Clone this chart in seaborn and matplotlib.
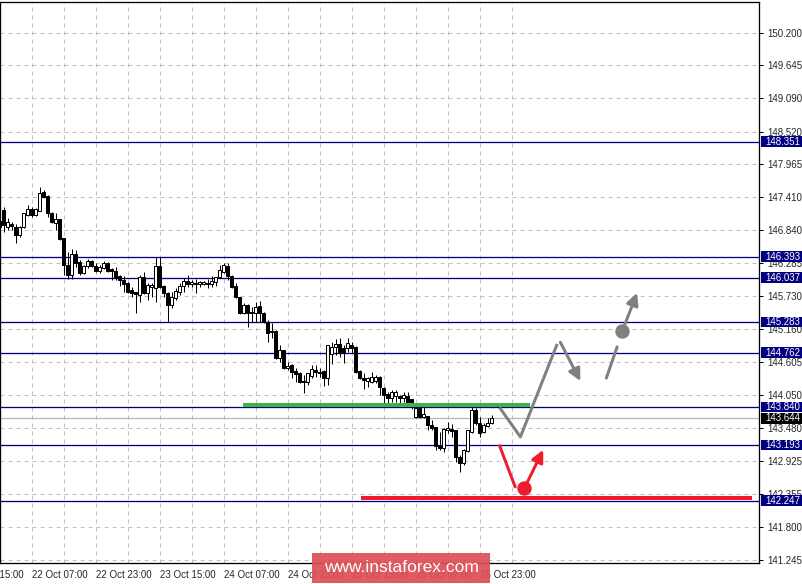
import numpy as np
import pandas as pd
import matplotlib
matplotlib.use("Agg")
import matplotlib.pyplot as plt
import matplotlib.transforms as mtransforms
from matplotlib.patches import Rectangle
import seaborn as sns

# H1 candles (first one is cut by the left edge)
opens = [147.00, 147.19, 146.90, 146.95, 146.90, 146.76, 146.90, 147.10, 147.20, 147.10,
         147.17, 147.49, 147.43, 147.14, 146.97, 147.04, 146.71, 146.25, 146.08, 146.44,
         146.30, 146.12, 146.24, 146.32, 146.24, 146.15, 146.20, 146.29, 146.19, 146.15,
         146.07, 146.00, 145.95, 145.83, 145.79, 145.74, 146.05, 145.78, 145.88, 145.86,
         146.24, 145.90, 145.78, 145.57, 145.69, 145.79, 145.90, 145.98, 145.93, 145.95,
         145.93, 145.93, 145.95, 145.93, 145.96, 146.05, 146.13, 146.24, 146.07, 145.90,
         145.71, 145.44, 145.57, 145.46, 145.44, 145.56, 145.44, 145.28, 145.13, 145.13,
         144.67, 144.81, 144.50, 144.55, 144.45, 144.42, 144.28, 144.26, 144.37, 144.47,
         144.43, 144.45, 144.33, 144.74, 144.86, 144.91, 144.84, 144.84, 144.89, 144.86,
         144.45, 144.33, 144.28, 144.26, 144.28, 144.35, 144.16, 144.06, 143.99, 144.03,
         144.03, 143.99, 144.03, 143.97, 143.67, 143.82, 143.67, 143.69, 143.53, 143.50,
         143.18, 143.14, 143.45, 143.47, 143.45, 142.99, 142.89, 143.09, 143.41, 143.79,
         143.57, 143.41, 143.52, 143.57]
highs = [147.03, 147.24, 147.05, 146.98, 146.95, 146.92, 147.14, 147.27, 147.24, 147.22,
         147.58, 147.53, 147.44, 147.15, 147.14, 147.04, 146.71, 146.47, 146.53, 146.51,
         146.34, 146.25, 146.36, 146.34, 146.29, 146.25, 146.32, 146.30, 146.20, 146.22,
         146.08, 146.07, 145.96, 145.88, 145.79, 146.08, 146.13, 145.95, 145.95, 146.39,
         146.39, 145.91, 145.79, 145.79, 145.86, 145.95, 146.03, 146.08, 146.00, 146.02,
         145.98, 145.98, 146.02, 146.07, 146.05, 146.25, 146.29, 146.29, 146.08, 145.95,
         145.71, 145.61, 145.59, 145.54, 145.62, 145.64, 145.46, 145.32, 145.27, 145.15,
         144.89, 144.81, 144.60, 144.57, 144.50, 144.44, 144.38, 144.42, 144.55, 144.55,
         144.50, 144.47, 144.89, 144.94, 144.99, 145.01, 144.89, 145.01, 144.94, 144.88,
         144.47, 144.42, 144.35, 144.43, 144.38, 144.37, 144.18, 144.09, 144.13, 144.13,
         144.04, 144.09, 144.09, 143.97, 143.87, 143.89, 143.84, 143.69, 143.62, 143.50,
         143.42, 143.48, 143.58, 143.55, 143.45, 143.02, 143.13, 143.45, 143.84, 143.82,
         143.67, 143.57, 143.65, 143.70]
lows = [146.85, 146.81, 146.85, 146.85, 146.63, 146.73, 146.88, 147.09, 147.07, 147.09,
        147.17, 147.39, 147.07, 146.97, 146.85, 146.68, 146.08, 146.02, 146.02, 146.22,
        146.08, 146.10, 146.20, 146.22, 146.13, 146.12, 146.19, 146.13, 146.00, 146.00,
        145.90, 145.79, 145.78, 145.71, 145.44, 145.62, 145.76, 145.66, 145.71, 145.62,
        145.86, 145.71, 145.28, 145.52, 145.66, 145.74, 145.79, 145.88, 145.88, 145.78,
        145.88, 145.91, 145.86, 145.88, 145.90, 146.03, 146.12, 146.00, 145.86, 145.69,
        145.42, 145.42, 145.20, 145.28, 145.28, 145.28, 145.27, 144.94, 145.01, 144.66,
        144.60, 144.49, 144.47, 144.33, 144.26, 144.25, 144.08, 144.21, 144.33, 144.35,
        144.35, 144.20, 144.21, 144.57, 144.72, 144.69, 144.59, 144.77, 144.76, 144.42,
        144.32, 144.15, 144.18, 144.25, 144.25, 144.04, 143.91, 143.91, 143.92, 143.92,
        143.91, 143.92, 143.91, 143.81, 143.65, 143.65, 143.65, 143.45, 143.45, 143.11,
        143.11, 143.07, 143.40, 143.33, 142.90, 142.73, 142.85, 143.07, 143.40, 143.53,
        143.33, 143.40, 143.50, 143.55]
closes = [146.90, 146.93, 146.98, 146.92, 146.76, 146.90, 147.14, 147.20, 147.10, 147.20,
          147.48, 147.41, 147.14, 146.98, 147.04, 146.70, 146.25, 146.08, 146.44, 146.29,
          146.12, 146.24, 146.32, 146.24, 146.15, 146.22, 146.29, 146.15, 146.15, 146.05,
          146.00, 145.93, 145.79, 145.78, 145.76, 146.05, 145.78, 145.91, 145.91, 146.24,
          145.88, 145.78, 145.57, 145.71, 145.81, 145.90, 145.98, 145.93, 145.96, 145.93,
          145.96, 145.96, 145.93, 145.98, 146.05, 146.17, 146.25, 146.07, 145.88, 145.71,
          145.44, 145.57, 145.44, 145.44, 145.54, 145.44, 145.28, 145.10, 145.11, 144.67,
          144.81, 144.50, 144.54, 144.43, 144.40, 144.26, 144.26, 144.42, 144.49, 144.43,
          144.42, 144.33, 144.89, 144.86, 144.91, 144.76, 144.77, 144.93, 144.84, 144.43,
          144.33, 144.30, 144.33, 144.35, 144.35, 144.18, 144.04, 143.99, 144.09, 144.09,
          143.99, 144.04, 143.92, 143.84, 143.82, 143.67, 143.72, 143.53, 143.48, 143.18,
          143.14, 143.47, 143.48, 143.43, 142.99, 142.89, 143.11, 143.45, 143.79, 143.57,
          143.40, 143.53, 143.57, 143.65]

# support / resistance levels (navy) and current bid
levels = [148.351, 146.393, 146.037, 145.283, 144.762, 143.840, 143.193, 142.247]
bid = 143.644

y_ticks = [141.245, 141.800, 142.355, 142.925, 143.480, 144.050, 144.605, 145.160,
           145.730, 146.285, 146.840, 147.410, 147.965, 148.520, 149.090, 149.645, 150.200]
x_tick_pos = [8, 24, 40, 56, 72, 88, 104, 120]
x_tick_labels = ["22 Oct 07:00", "22 Oct 23:00", "23 Oct 15:00", "24 Oct 07:00",
                 "24 Oct 23:00", "25 Oct 15:00", "26 Oct 07:00", "26 Oct 23:00"]

# green / red horizontal marks: (start bar, end bar, price)
green_mark = (60.7, 132.7, 143.87)
red_mark = (90.2, 188.2, 142.29)

# projected paths (bar index, price)
gray_path_x = [125.0, 130.2, 139.4]
gray_path_y = [143.83, 143.33, 144.91]
gray_down_x = [140.2, 145.2]
gray_down_y = [144.94, 144.28]
gray_dash_x = [151.7, 154.4]
gray_dash_y = [144.33, 144.86]
gray_dot = (155.7, 145.13)
gray_up_tip = (159.4, 145.78)
red_path_x = [125.0, 128.9]
red_path_y = [143.18, 142.48]
red_dot = (131.2, 142.46)
red_up_tip = (135.9, 143.11)

sns.set_style("white")
plt.rcParams['font.family'] = ['Liberation Sans', 'DejaVu Sans']

NAVY = '#000080'
GRAY = '#808080'
RED = '#ee1c2e'
GREEN = '#3cb44b'
px = 0.72  # one pixel in points at dpi 100

fig = plt.figure(figsize=(8.02, 5.84), dpi=100)
ax = fig.add_axes([0, 21 / 584, 759 / 802, 561 / 584])

df = pd.DataFrame({'o': opens, 'h': highs, 'l': lows, 'c': closes})
df['x'] = np.arange(len(df))
up = df['c'] >= df['o']

ax.vlines(df['x'], df['l'], df['h'], color='black', lw=1 * px, zorder=3)
body_h = np.maximum((df['c'] - df['o']).abs(), 0.015)
body_b = np.minimum(df['o'], df['c'])
ax.bar(df['x'][up], body_h[up], bottom=body_b[up], width=0.75, color='white',
       edgecolor='black', linewidth=1 * px, zorder=4)
ax.bar(df['x'][~up], body_h[~up], bottom=body_b[~up], width=0.75, color='black',
       edgecolor='black', linewidth=1 * px, zorder=4)

for lv in levels:
    ax.axhline(lv, color=NAVY, lw=1.3 * px, zorder=2)
ax.axhline(bid, color='#b8b8b8', lw=1.3 * px, zorder=2)

ax.hlines(green_mark[2], green_mark[0], green_mark[1], color=GREEN, lw=4 * px, zorder=5)
ax.hlines(red_mark[2], red_mark[0], red_mark[1], color=RED, lw=4 * px, zorder=5)

# projections
ax.plot(gray_path_x, gray_path_y, color=GRAY, lw=3 * px, zorder=6, solid_capstyle='butt')
ax.annotate("", xy=(gray_down_x[1], gray_down_y[1]), xytext=(gray_down_x[0], gray_down_y[0]),
            arrowprops=dict(arrowstyle='-|>', color=GRAY, lw=3 * px, mutation_scale=18,
                            shrinkA=0, shrinkB=0), zorder=6)
ax.plot(gray_dash_x, gray_dash_y, color=GRAY, lw=3 * px, zorder=6)
ax.plot(*gray_dot, marker='o', ms=13 * px, color=GRAY, zorder=6)
ax.annotate("", xy=gray_up_tip, xytext=gray_dot,
            arrowprops=dict(arrowstyle='-|>', color=GRAY, lw=3 * px, mutation_scale=18,
                            shrinkA=4, shrinkB=0), zorder=6)
ax.plot(red_path_x, red_path_y, color=RED, lw=3 * px, zorder=6)
ax.plot(*red_dot, marker='o', ms=13 * px, color=RED, zorder=6)
ax.annotate("", xy=red_up_tip, xytext=red_dot,
            arrowprops=dict(arrowstyle='-|>', color=RED, lw=3 * px, mutation_scale=18,
                            shrinkA=4, shrinkB=0), zorder=6)

ax.set_xlim(0.175, 189.9)
ax.set_ylim(141.187, 150.724)

# axes / ticks
ax.yaxis.tick_right()
ax.set_yticks(y_ticks)
ax.set_yticklabels([f"{v:.3f}" for v in y_ticks], fontsize=7)
ax.set_xticks(x_tick_pos)
ax.set_xticklabels(x_tick_labels, fontsize=7, ha='left')
ax.set_xticks([p + 8 for p in x_tick_pos] + [0], minor=True)
ax.tick_params(axis='x', which='major', length=4, width=1 * px, pad=1, direction='out',
               color='black')
ax.tick_params(axis='x', which='minor', length=0)
ax.tick_params(axis='y', length=3, width=1 * px, pad=3, direction='out', color='black')
ax.grid(True, which='both', color='#c0c0c0', lw=1 * px, linestyle=(0, (4, 4)))
ax.set_axisbelow(True)
for s in ax.spines.values():
    s.set_visible(True)
    s.set_color('black')
    s.set_linewidth(1.3 * px)

# first (cut) date label
ax.text(-8, -0.012, "21 Oct 15:00", transform=ax.get_xaxis_transform(), fontsize=7,
        ha='left', va='top', clip_on=False)

# price boxes on the right scale
box_tr = mtransforms.blended_transform_factory(fig.transFigure, ax.transData)
for lv, col in [(v, NAVY) for v in levels] + [(bid, 'black')]:
    ax.add_patch(Rectangle((761 / 802, lv - 0.092), 41 / 802, 0.184, transform=box_tr,
                           facecolor=col, edgecolor='none', clip_on=False, zorder=10))
    ax.text(765 / 802, lv, f"{lv:.3f}", transform=box_tr, color='white', fontsize=7,
            ha='left', va='center', clip_on=False, zorder=11)

# watermark
fig.patches.append(Rectangle((312 / 802, 1 / 584), 178 / 802, 30 / 584, transform=fig.transFigure,
                             facecolor='#dd4e55', edgecolor='none', alpha=0.92, zorder=20))
fig.text(401 / 802, 16 / 584, "www.instaforex.com", color='white', fontsize=12.5,
         ha='center', va='center', zorder=21)

fig.savefig("out.png", dpi=100)
